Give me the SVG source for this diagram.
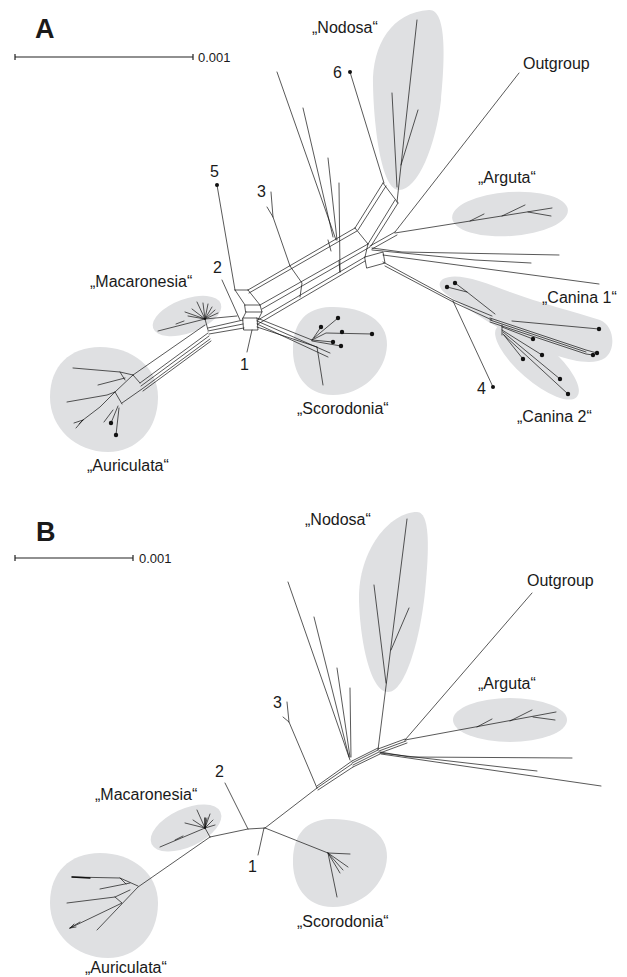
<svg xmlns="http://www.w3.org/2000/svg" width="627" height="977" viewBox="0 0 627 977">
<style>
.g{fill:#dfe0e2;stroke:none}
.e{fill:none;stroke:#111;stroke-width:0.7;stroke-linecap:round;stroke-linejoin:round}
.sb{fill:none;stroke:#222;stroke-width:1.2}
.d{fill:#111}
text{font-family:"Liberation Sans",Arial,sans-serif;font-size:16px;fill:#1a1a1a}
.p{font-size:27px;font-weight:bold}
.s{font-size:13px}
</style>
<rect width="627" height="977" fill="#fff"/>

<!-- ===== PANEL A ===== -->
<g id="panelA-title"><text class="p" x="35" y="38">A</text></g>
<g id="scaleA">
<path class="sb" d="M15,57H193M15,54V60M193,54V60"/>
<text class="s" x="198" y="62">0.001</text>
</g>

<g id="A-nodosa">
<path class="g" d="M429,10 C447,9 445,60 441,100 C436,145 418,190 399,190 C382,190 374,130 373,85 C372,45 392,12 429,10 Z"/>
<text x="312" y="33">„Nodosa“</text>
</g>
<g id="A-arguta">
<ellipse class="g" cx="510" cy="214" rx="58" ry="22" transform="rotate(-4 510 214)"/>
<text x="478" y="183">„Arguta“</text>
</g>
<g id="A-outgroup"><text x="523" y="69">Outgroup</text></g>
<g id="A-macaronesia">
<ellipse class="g" cx="187" cy="316" rx="36" ry="17" transform="rotate(-20 187 316)"/>
<text x="90" y="287">„Macaronesia“</text>
</g>
<g id="A-auriculata">
<path class="g" d="M100,347 C132,347 158,367 158,397 C158,430 136,452 108,452 C76,452 50,428 50,397 C50,366 70,347 100,347 Z"/>
<text x="87" y="471">„Auriculata“</text>
</g>
<g id="A-scorodonia">
<path class="g" d="M330,307 C362,306 388,320 387,345 C386,372 362,395 333,395 C305,395 292,372 293,347 C294,322 306,308 330,307 Z"/>
<text x="297" y="414">„Scorodonia“</text>
</g>
<g id="A-canina1">
<path class="g" d="M443,279 C455,272 480,280 510,292 C540,303 575,312 600,320 C615,326 616,350 605,358 C595,365 575,362 555,355 C520,342 480,318 455,300 C440,292 436,284 443,279 Z"/>
<text x="542" y="303">„Canina 1“</text>
</g>
<g id="A-canina2">
<ellipse class="g" cx="537" cy="362" rx="53" ry="19" transform="rotate(41 537 362)"/>
<text x="517" y="422">„Canina 2“</text>
</g>
<g id="A-labels">
<text x="333" y="78">6</text>
<text x="210" y="177">5</text>
<text x="257" y="197">3</text>
<text x="213" y="273">2</text>
<text x="240" y="370">1</text>
<text x="477" y="394">4</text>
</g>

<g id="A-connectors" class="e">
<!-- Nodosa -->
<path d="M397,202 L417,20 M392,93 L397,187 M418,110 L401,165"/>
<!-- outgroup & arguta -->
<path d="M519,73 L395,232"/>
<path d="M395,233 L552,208 M470,221 L484,214 M502,216 L525,205 M528,212 L551,216"/>
<!-- 6 -->
<path d="M350,72 L384,183"/>
<!-- fan -->
<path d="M277,72 L336,240 M303,108 L333,237 M328,158 L337,240 M339,183 L340,272"/>
<!-- 5, 3, 2, 1 -->
<path d="M217,185 L235,290"/>
<path d="M271,192 L273,217 M267,207 L273,217 L290,266"/>
<path d="M222,280 L240,320"/>
<path d="M247,352 L252,330"/>
<!-- central network -->
<path d="M248,290 L355,228 M249,293 L357,231"/>
<path d="M235,290 L248,290 M235,290 L245,305 M248,290 L260,305 M245,305 L260,305 L262,312 L246,312 Z"/>
<path d="M260,305 L368,244 M262,309 L370,247"/>
<path d="M243,318 L257,318 L258,330 L244,330 Z M246,312 L243,318 M262,312 L258,320"/>
<path d="M258,320 L365,257 M258,324 L365,261"/>
<path d="M290,266 L302,283 L300,297 M328,240 L331,251 M339,261 L340,272"/>
<!-- Nodosa parallelogram -->
<path d="M355,228 L383,183 M358,230 L386,186 M368,244 L395,200 M371,246 L398,203 M383,183 L398,203 M355,228 L368,244"/>
<!-- right box -->
<path d="M365,257 L383,252 L385,263 L367,268 Z M368,244 L365,257"/>
<path d="M370,246 L395,232 M372,249 L397,235"/>
<path d="M372,248 L402,252 L559,255 M372,250 L475,260 L531,263 M383,255 L599,284"/>
<!-- Canina band -->
<path d="M383,262 L453,300 L492,316 M385,266 L455,303 L492,320"/>
<path d="M493,387 L453,301"/>
<path d="M447,287 L467,292 M455,283 L467,292 L495,314"/>
<path d="M490,318 L586,350 L597,353 M490,320 L586,352 M490,322 L586,354 L593,355"/>
<path d="M512,321 L599,329"/>
<path d="M502,325 L502,335 M502,327 L533,339 M502,330 L542,355 M503,334 L523,359 M503,332 L560,379 M504,335 L568,394"/>
<!-- Scorodonia -->
<path d="M257,318 L312,340 M257,321 L330,353 M257,324 L328,357 M257,327 L317,347"/>
<path d="M312,340 L321,327 M314,338 L338,318 M312,340 L326,333 L372,334 M312,340 L333,342 M312,341 L341,346 M317,347 L323,385"/>
<!-- Macaronesia -->
<path d="M205,319 L197,302 M205,319 L185,312 M205,319 L188,316 M205,319 L212,307 M205,319 L215,310 M205,319 L218,313 M205,319 L203,303 M205,319 L192,309 M205,319 L208,304"/>
<path d="M205,319 L158,331 M176,324 L184,321 M205,319 L208,330 M205,319 L237,316"/>
<path d="M208,328 L243,320 M208,331 L243,324 M209,334 L244,328"/>
<!-- Auriculata -->
<path d="M205,325 L133,375 M208,333 L140,383 M209,336 L141,386 M210,339 L142,389 L122,403 M211,341 L143,391"/>
<path d="M133,375 L140,383 M73,368 L120,372 L133,375 M120,372 L125,380 M98,385 L125,378"/>
<path d="M133,375 L115,392 L100,407 L83,420 M83,420 L79,424 M83,420 L76,428 M83,420 L74,423 M115,392 L122,404 M67,402 L107,395 L115,392"/>
<path d="M118,406 L111,423 M119,408 L116,435 M113,410 L104,422"/>
</g>
<g id="A-dots" class="d">
<circle cx="217" cy="185" r="2"/><circle cx="350" cy="72" r="2"/><circle cx="493" cy="387" r="2"/>
<circle cx="447" cy="287" r="2.2"/><circle cx="455" cy="283" r="2.2"/><circle cx="599" cy="329" r="2.2"/>
<circle cx="597" cy="353" r="2.2"/><circle cx="593" cy="355" r="2.2"/><circle cx="533" cy="339" r="2.2"/>
<circle cx="542" cy="355" r="2.2"/><circle cx="523" cy="359" r="2.2"/><circle cx="560" cy="379" r="2.2"/><circle cx="568" cy="394" r="2.2"/>
<circle cx="321" cy="327" r="2.2"/><circle cx="338" cy="318" r="2.2"/><circle cx="342" cy="332" r="2.2"/><circle cx="372" cy="334" r="2.2"/>
<circle cx="333" cy="342" r="2.2"/><circle cx="341" cy="346" r="2.2"/>
<circle cx="111" cy="423" r="2.2"/><circle cx="116" cy="435" r="2.2"/>
</g>

<!-- ===== PANEL B ===== -->
<g id="panelB-title"><text class="p" x="36" y="541">B</text></g>
<g id="scaleB">
<path class="sb" d="M15,558H133M15,555V561M133,555V561"/>
<text class="s" x="139" y="563">0.001</text>
</g>
<g id="B-nodosa">
<path class="g" d="M417,512 C432,512 428,560 425,592 C420,640 405,692 388,692 C370,692 360,640 359,600 C358,550 390,512 417,512 Z"/>
<text x="305" y="525">„Nodosa“</text>
</g>
<g id="B-arguta">
<ellipse class="g" cx="510" cy="720" rx="57" ry="22"/>
<text x="478" y="689">„Arguta“</text>
</g>
<g id="B-outgroup"><text x="527" y="586">Outgroup</text></g>
<g id="B-macaronesia">
<ellipse class="g" cx="186" cy="828" rx="38" ry="19" transform="rotate(-25 186 828)"/>
<text x="95" y="800">„Macaronesia“</text>
</g>
<g id="B-auriculata">
<path class="g" d="M100,853 C132,853 158,873 158,903 C158,936 136,958 108,958 C76,958 50,934 50,903 C50,872 70,853 100,853 Z"/>
<text x="85" y="973">„Auriculata“</text>
</g>
<g id="B-scorodonia">
<path class="g" d="M330,819 C362,818 388,832 387,857 C386,884 362,907 333,907 C305,907 292,884 293,859 C294,834 306,820 330,819 Z"/>
<text x="297" y="927">„Scorodonia“</text>
</g>
<g id="B-labels">
<text x="273" y="708">3</text>
<text x="215" y="777">2</text>
<text x="248" y="872">1</text>
</g>

<g id="B-connectors" class="e">
<path d="M378,750 L407,519 M374,585 L386,683 M409,608 L391,650"/>
<path d="M532,593 L405,740"/>
<path d="M405,740 L556,712 M477,727 L492,719 M510,721 L532,710 M533,717 L555,720"/>
<path d="M380,752 L410,757 L572,758 M380,753 L510,768 L537,771 M381,754 L601,786"/>
<path d="M378,749 L405,739 M379,751 L406,741 M380,753 L407,743"/>
<path d="M352,761 L378,748 M352,763 L378,750 M353,765 L379,752 M353,767 L380,754"/>
<path d="M317,786 L352,761 M317,788 L352,764 M318,790 L353,767"/>
<path d="M317,788 L265,828"/>
<path d="M288,582 L350,760 M314,617 L349,757 M337,668 L350,757 M350,688 L351,757"/>
<path d="M287,702 L289,722 M283,717 L289,722 L317,788"/>
<path d="M225,783 L248,829 M258,855 L264,828"/>
<path d="M265,828 L248,829 L210,837"/>
<path d="M265,828 L328,853 L350,854 M328,853 L348,867 M328,853 L343,870 M328,853 L340,873 M328,853 L337,897"/>
<path d="M205,828 L197,810 M205,828 L185,823 M205,828 L193,820 M205,828 L213,820 M205,828 L215,825 M205,828 L207,818 M205,828 L210,814 M205,828 L160,847 M175,840 L183,836 M205,828 L210,837"/>
<path d="M205,818 L205,828" style="stroke-width:1.4"/>
<path d="M210,837 L138,887 L97,930 M138,886 L120,878 L72,877 M130,883 L100,889 M130,890 L115,897 L67,903 M115,897 L122,903 L70,928 M70,928 L80,922 M70,928 L76,927 M70,928 L74,924 M120,878 L126,884"/>
<path d="M72,877 L90,878" style="stroke-width:1.3"/>
</g>
</svg>
